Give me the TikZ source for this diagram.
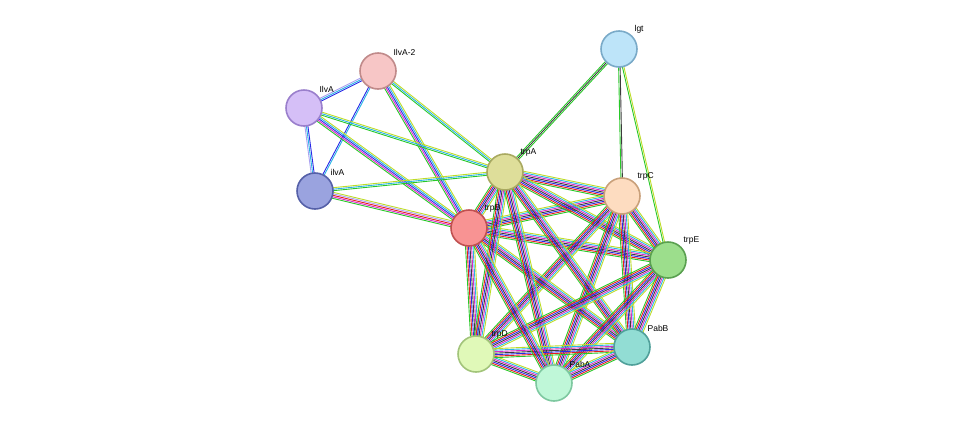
\documentclass[tikz,border=0pt]{standalone}
\usepackage{fontspec}
\setmainfont{Liberation Sans}
\usetikzlibrary{calc}
\definecolor{cnb}{RGB}{40,200,40}
\definecolor{cfu}{RGB}{230,30,30}
\definecolor{cco}{RGB}{40,40,230}
\definecolor{cex}{RGB}{60,60,60}
\definecolor{cmg}{RGB}{220,40,200}
\definecolor{cdb}{RGB}{40,180,230}
\definecolor{ctm}{RGB}{190,220,40}
\definecolor{cho}{RGB}{170,160,240}

\tikzset{
  prot/.style={circle, draw, line width=1.6pt, minimum size=36pt, inner sep=0pt},
  lbl/.style={font=\fontsize{8.5}{10}\selectfont, inner sep=0pt, label distance=3pt}
}

% multi-coloured edge: \edge{a}{b}{colour list}
\newcommand{\edge}[3]{%
  \foreach \c [count=\i] in {#3}{\xdef\nlin{\i}}%
  \foreach \c [count=\i] in {#3}{%
    \pgfmathsetmacro{\o}{(\i-(\nlin+1)/2)*1.5}%
    \draw[\c, line width=0.9pt] ($(#1)!\o pt!90:(#2)$) -- ($(#2)!\o pt!-90:(#1)$);
  }%
}

\begin{document}
\begin{tikzpicture}[x=1pt, y=-1pt]
  \useasboundingbox (0,0) rectangle (976,429);

  % node positions
  \coordinate (IlvA2) at (378,71);
  \coordinate (IlvA) at (304,108);
  \coordinate (ilvA) at (315,191);
  \coordinate (trpA) at (505,172);
  \coordinate (lgt) at (619,49);
  \coordinate (trpC) at (622,196);
  \coordinate (trpB) at (469,228);
  \coordinate (trpE) at (668,260);
  \coordinate (trpD) at (476,354);
  \coordinate (PabA) at (554,383);
  \coordinate (PabB) at (632,347);

  % edges
  \edge{IlvA}{IlvA2}{cco,cdb,cho}
  \edge{IlvA}{ilvA}{cho,cdb,cco}
  \edge{IlvA2}{ilvA}{cco,cdb}
  \edge{IlvA2}{trpA}{cnb,cdb,ctm}
  \edge{IlvA2}{trpB}{cnb,cmg,cco,cdb,ctm}
  \edge{IlvA}{trpA}{cnb,cdb,ctm}
  \edge{IlvA}{trpB}{cnb,cmg,cco,cdb,ctm}
  \edge{ilvA}{trpA}{cnb,cdb,ctm}
  \edge{ilvA}{trpB}{cnb,cmg,cfu,cho,ctm}
  \edge{lgt}{trpA}{cnb,cex,cnb}
  \edge{lgt}{trpC}{cnb,cex}
  \edge{lgt}{trpE}{cnb,ctm}
  \foreach \a/\b in {trpA/trpB, trpA/trpC, trpB/trpC, trpA/trpE, trpB/trpE,
      trpC/trpE, trpC/trpD, trpC/PabA, trpC/PabB, trpB/trpD, trpB/PabB,
      trpA/trpD, trpA/PabA, trpA/PabB, trpE/trpD, trpE/PabA, trpE/PabB,
      trpD/PabA, trpD/PabB, PabA/PabB, trpB/PabA}{
    \edge{\a}{\b}{cnb,cfu,cco,cex,cmg,cdb,ctm}
  }

  % proteins
  \node[prot, fill={rgb,255:red,247;green,198;blue,198}, draw={rgb,255:red,192;green,138;blue,138},
    label={[lbl]45:IlvA-2}] (nIlvA2) at (IlvA2) {};
  \node[prot, fill={rgb,255:red,213;green,191;blue,247}, draw={rgb,255:red,154;green,127;blue,204},
    label={[lbl]45:IlvA}] (nIlvA) at (IlvA) {};
  \node[prot, fill={rgb,255:red,154;green,163;blue,223}, draw={rgb,255:red,85;green,96;blue,168},
    label={[lbl]45:ilvA}] (nilvA) at (ilvA) {};
  \node[prot, fill={rgb,255:red,222;green,222;blue,154}, draw={rgb,255:red,169;green,169;blue,96},
    label={[lbl]45:trpA}] (ntrpA) at (trpA) {};
  \node[prot, fill={rgb,255:red,189;green,228;blue,249}, draw={rgb,255:red,122;green,170;blue,200},
    label={[lbl]45:lgt}] (nlgt) at (lgt) {};
  \node[prot, fill={rgb,255:red,253;green,220;blue,192}, draw={rgb,255:red,201;green,160;blue,122},
    label={[lbl]45:trpC}] (ntrpC) at (trpC) {};
  \node[prot, fill={rgb,255:red,248;green,147;blue,147}, draw={rgb,255:red,192;green,80;blue,80},
    label={[lbl]45:trpB}] (ntrpB) at (trpB) {};
  \node[prot, fill={rgb,255:red,156;green,222;blue,140}, draw={rgb,255:red,90;green,160;blue,80},
    label={[lbl]45:trpE}] (ntrpE) at (trpE) {};
  \node[prot, fill={rgb,255:red,224;green,249;blue,184}, draw={rgb,255:red,162;green,196;blue,122},
    label={[lbl]45:trpD}] (ntrpD) at (trpD) {};
  \node[prot, fill={rgb,255:red,191;green,247;blue,216}, draw={rgb,255:red,126;green,200;blue,160},
    label={[lbl]45:PabA}] (nPabA) at (PabA) {};
  \node[prot, fill={rgb,255:red,146;green,221;blue,212}, draw={rgb,255:red,80;green,160;blue,154},
    label={[lbl]45:PabB}] (nPabB) at (PabB) {};
\end{tikzpicture}
\end{document}
